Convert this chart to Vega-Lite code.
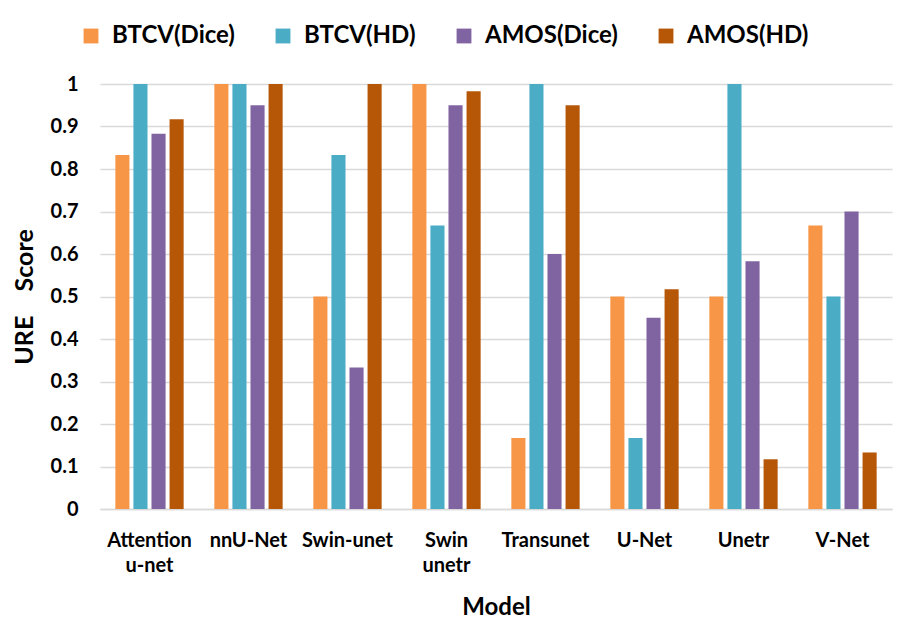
{
  "$schema": "https://vega.github.io/schema/vega-lite/v6.json",
  "width": 792,
  "height": 425,
  "autosize": "none",
  "padding": {"left": 100, "top": 84, "right": 23, "bottom": 116},
  "background": "white",
  "config": {
    "font": "Lato",
    "view": {"stroke": null}
  },
  "data": {
    "values": [
      {"model": "Attention u-net", "series": "BTCV(Dice)", "score": 0.833},
      {"model": "Attention u-net", "series": "BTCV(HD)", "score": 1.0},
      {"model": "Attention u-net", "series": "AMOS(Dice)", "score": 0.883},
      {"model": "Attention u-net", "series": "AMOS(HD)", "score": 0.917},
      {"model": "nnU-Net", "series": "BTCV(Dice)", "score": 1.0},
      {"model": "nnU-Net", "series": "BTCV(HD)", "score": 1.0},
      {"model": "nnU-Net", "series": "AMOS(Dice)", "score": 0.95},
      {"model": "nnU-Net", "series": "AMOS(HD)", "score": 1.0},
      {"model": "Swin-unet", "series": "BTCV(Dice)", "score": 0.5},
      {"model": "Swin-unet", "series": "BTCV(HD)", "score": 0.833},
      {"model": "Swin-unet", "series": "AMOS(Dice)", "score": 0.333},
      {"model": "Swin-unet", "series": "AMOS(HD)", "score": 1.0},
      {"model": "Swin unetr", "series": "BTCV(Dice)", "score": 1.0},
      {"model": "Swin unetr", "series": "BTCV(HD)", "score": 0.667},
      {"model": "Swin unetr", "series": "AMOS(Dice)", "score": 0.95},
      {"model": "Swin unetr", "series": "AMOS(HD)", "score": 0.983},
      {"model": "Transunet", "series": "BTCV(Dice)", "score": 0.167},
      {"model": "Transunet", "series": "BTCV(HD)", "score": 1.0},
      {"model": "Transunet", "series": "AMOS(Dice)", "score": 0.6},
      {"model": "Transunet", "series": "AMOS(HD)", "score": 0.95},
      {"model": "U-Net", "series": "BTCV(Dice)", "score": 0.5},
      {"model": "U-Net", "series": "BTCV(HD)", "score": 0.167},
      {"model": "U-Net", "series": "AMOS(Dice)", "score": 0.45},
      {"model": "U-Net", "series": "AMOS(HD)", "score": 0.517},
      {"model": "Unetr", "series": "BTCV(Dice)", "score": 0.5},
      {"model": "Unetr", "series": "BTCV(HD)", "score": 1.0},
      {"model": "Unetr", "series": "AMOS(Dice)", "score": 0.583},
      {"model": "Unetr", "series": "AMOS(HD)", "score": 0.117},
      {"model": "V-Net", "series": "BTCV(Dice)", "score": 0.667},
      {"model": "V-Net", "series": "BTCV(HD)", "score": 0.5},
      {"model": "V-Net", "series": "AMOS(Dice)", "score": 0.7},
      {"model": "V-Net", "series": "AMOS(HD)", "score": 0.133}
    ]
  },
  "mark": {"type": "bar"},
  "encoding": {
    "x": {
      "field": "model",
      "type": "nominal",
      "sort": null,
      "scale": {"paddingInner": 0.31, "paddingOuter": 0.155},
      "axis": {
        "title": "Model",
        "titleFontSize": 24,
        "titleFontWeight": "bold",
        "titleColor": "#000",
        "titlePadding": 20,
        "labelAngle": 0,
        "labelFontSize": 20,
        "labelFontWeight": "bold",
        "labelColor": "#000",
        "labelPadding": 21,
        "labelLineHeight": 25,
        "labelExpr": "split(datum.label, ' ')",
        "labelOverlap": false,
        "ticks": false,
        "domain": true,
        "domainColor": "#D9D9D9",
        "domainWidth": 1.5
      }
    },
    "xOffset": {
      "field": "series",
      "type": "nominal",
      "sort": ["BTCV(Dice)", "BTCV(HD)", "AMOS(Dice)", "AMOS(HD)"],
      "scale": {"paddingInner": 0.22, "paddingOuter": 0}
    },
    "y": {
      "field": "score",
      "type": "quantitative",
      "scale": {"domain": [0, 1], "nice": false},
      "axis": {
        "title": "URE\u00a0\u00a0\u00a0\u00a0Score",
        "titleFontSize": 25,
        "titleFontWeight": "bold",
        "titleColor": "#000",
        "titlePadding": 13,
        "labelFontSize": 20,
        "labelFontWeight": "bold",
        "labelColor": "#000",
        "labelPadding": 22,
        "labelOverlap": false,
        "values": [0, 0.1, 0.2, 0.3, 0.4, 0.5, 0.6, 0.7, 0.8, 0.9, 1],
        "labelExpr": "format(datum.value, '~g')",
        "ticks": false,
        "domain": false,
        "grid": true,
        "gridColor": "#D9D9D9",
        "gridWidth": 1.5
      }
    },
    "color": {
      "field": "series",
      "type": "nominal",
      "sort": ["BTCV(Dice)", "BTCV(HD)", "AMOS(Dice)", "AMOS(HD)"],
      "scale": {
        "domain": ["BTCV(Dice)", "BTCV(HD)", "AMOS(Dice)", "AMOS(HD)"],
        "range": ["#F79646", "#4BACC6", "#8064A2", "#B65708"]
      },
      "legend": {
        "title": null,
        "orient": "none",
        "direction": "horizontal",
        "legendX": -21,
        "legendY": -60,
        "symbolType": "square",
        "symbolSize": 220,
        "symbolStrokeWidth": 0,
        "labelFontSize": 24,
        "labelFontWeight": "bold",
        "labelColor": "#000",
        "labelOffset": 9,
        "columnPadding": 36
      }
    }
  }
}
